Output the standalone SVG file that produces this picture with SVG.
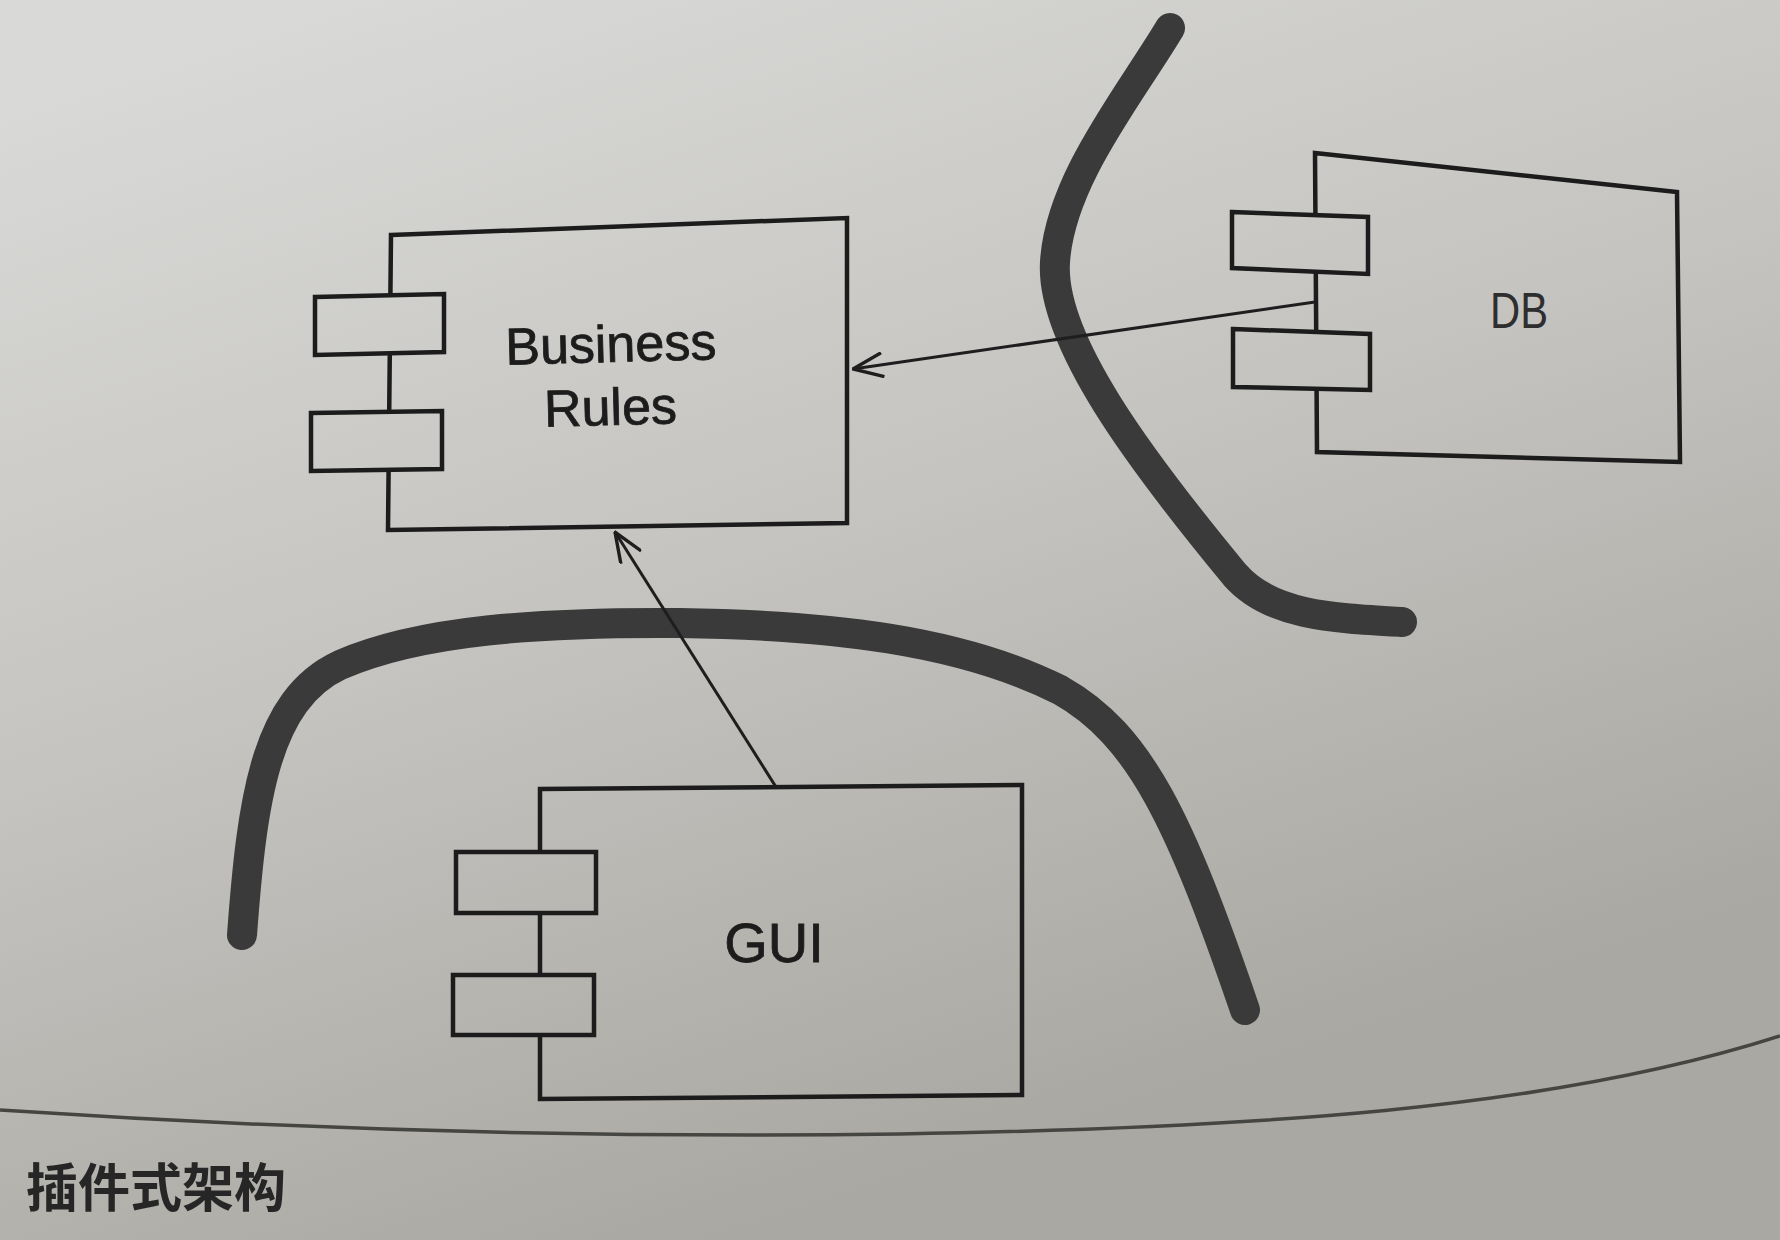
<svg xmlns="http://www.w3.org/2000/svg" width="1780" height="1240" viewBox="0 0 1780 1240">
  <defs>
    <linearGradient id="bg" gradientUnits="userSpaceOnUse" x1="300" y1="0" x2="700" y2="1240">
      <stop offset="0" stop-color="#d9d9d7"/>
      <stop offset="0.5" stop-color="#c5c4c1"/>
      <stop offset="1" stop-color="#a9a8a2"/>
    </linearGradient>
    <marker id="open" viewBox="0 0 32 26" refX="31" refY="13" markerWidth="32" markerHeight="26" markerUnits="userSpaceOnUse" orient="auto">
      <path d="M1,1 L31,13 L1,25" fill="none" stroke="#1e1e1e" stroke-width="3.4"/>
    </marker>
    <style>
      .box{fill:url(#bg);stroke:#1c1c1c;stroke-width:4.5;stroke-linejoin:miter}
      .port{fill:url(#bg);stroke:#1c1c1c;stroke-width:4.5}
      .lbl{font-family:"Liberation Sans",Arial,sans-serif;fill:#1c1c1c;stroke:#1c1c1c;stroke-width:0.8;text-anchor:middle}
      .wall{fill:none;stroke:#3a3a3a;stroke-width:30;stroke-linecap:round;stroke-linejoin:round}
      .dep{fill:none;stroke:#1e1e1e;stroke-width:3}
    </style>
  </defs>
  <rect x="0" y="0" width="1780" height="1240" fill="url(#bg)"/>

  <g id="boundaries">
    <path class="wall" d="M1170,28 C1130,95 1060,180 1055,262 C1050,340 1140,460 1235,575 C1270,615 1330,618 1402,622"/>
    <path class="wall" d="M242,935 C252,800 265,700 340,665 C420,630 540,622 680,623 C830,625 960,640 1060,690 C1140,735 1180,820 1245,1010"/>
  </g>

  <g id="node-business-rules">
    <path class="box" d="M391,235 L847,218 L847,523 L388,530 Z"/>
    <path class="port" d="M315,297 L444,294 L444,352 L315,355 Z"/>
    <path class="port" d="M311,413 L442,411 L442,469 L311,471 Z"/>
    <g transform="rotate(-1.5 611 392)">
      <text class="lbl" x="612" y="362" font-size="52">Business</text>
      <text class="lbl" x="610" y="425" font-size="52">Rules</text>
    </g>
  </g>

  <g id="node-db">
    <path class="box" d="M1315,153 L1677,192 L1680,462 L1317,452 Z"/>
    <path class="port" d="M1232,212 L1368,217 L1368,274 L1232,268 Z"/>
    <path class="port" d="M1233,329 L1370,334 L1370,390 L1233,387 Z"/>
    <text x="1519" y="328" font-size="50" font-family="'Liberation Sans',Arial,sans-serif" text-anchor="middle" textLength="58" lengthAdjust="spacingAndGlyphs" fill="#2e2e2e">DB</text>
  </g>

  <g id="node-gui">
    <path class="box" d="M540,789 L1022,785 L1022,1095 L540,1099 Z"/>
    <path class="port" d="M456,852 L596,852 L596,913 L456,913 Z"/>
    <path class="port" d="M453,975 L594,975 L594,1035 L453,1035 Z"/>
    <text class="lbl" x="774" y="962" font-size="56">GUI</text>
  </g>

  <g id="connectors">
    <line class="dep" x1="1315" y1="302" x2="853" y2="369" marker-end="url(#open)"/>
    <line class="dep" x1="776" y1="787" x2="615" y2="532" marker-end="url(#open)"/>
  </g>

  <g id="page">
    <path d="M0,1110 C300,1130 600,1138 900,1134 C1250,1128 1550,1110 1780,1036" fill="none" stroke="#454542" stroke-width="3.5"/>
    <text x="26" y="1207" font-size="52" font-family="'Noto Sans CJK SC','Noto Sans',sans-serif" font-weight="bold" fill="#262626">插件式架构</text>
  </g>
</svg>
